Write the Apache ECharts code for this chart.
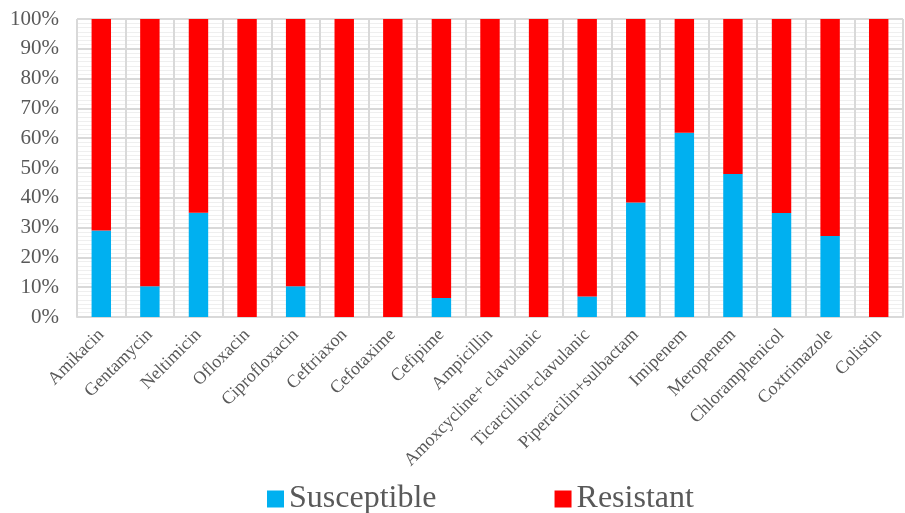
<!DOCTYPE html>
<html>
<head>
<meta charset="utf-8">
<script src="https://cdn.jsdelivr.net/npm/echarts@6/dist/echarts.min.js"></script>
<style>
  html, body { margin: 0; padding: 0; background: #fff; }
  #chart { width: 905px; height: 513px; }
</style>
</head>
<body>
<div id="chart"></div>
<script>
// Antibiotic susceptibility profile (percent of isolates)
const antibiotics = [
  'Amikacin', 'Gentamycin', 'Neltimicin', 'Ofloxacin', 'Ciprofloxacin',
  'Ceftriaxon', 'Cefotaxime', 'Cefipime', 'Ampicillin',
  'Amoxcycline+ clavulanic', 'Ticarcillin+clavulanic', 'Piperacilin+sulbactam',
  'Imipenem', 'Meropenem', 'Chloramphenicol', 'Coxtrimazole', 'Colistin'
];
const susceptible = [29, 10.3, 35, 0, 10.3, 0, 0, 6.4, 0, 0, 6.9, 38.4, 61.8, 48, 34.9, 27.2, 0];
const resistant   = [71, 89.7, 65, 100, 89.7, 100, 100, 93.6, 100, 100, 93.1, 61.6, 38.2, 52, 65.1, 72.8, 100];
const yTicks = [0, 10, 20, 30, 40, 50, 60, 70, 80, 90, 100];

const font = 'Liberation Serif, Times New Roman, serif';
const textColor = '#595959';

const chart = echarts.init(document.getElementById('chart'));
chart.setOption({
  animation: false,
  backgroundColor: '#ffffff',
  grid: { left: 77, right: 2, top: 19, bottom: 196, containLabel: false },
  legend: {
    data: ['Susceptible', 'Resistant'],
    left: 262,
    top: 478,
    itemWidth: 17,
    itemHeight: 17,
    itemGap: 118,
    icon: 'rect',
    textStyle: { fontFamily: font, fontSize: 32, color: textColor, padding: [0, 0, 0, 0] }
  },
  xAxis: {
    type: 'category',
    data: antibiotics,
    axisLine: { show: true, lineStyle: { color: '#d9d9d9', width: 2 } },
    axisTick: { show: false },
    splitLine: { show: true, lineStyle: { color: '#d9d9d9', width: 2 } },
    axisLabel: {
      interval: 0,
      rotate: 45,
      margin: 15,
      fontFamily: font,
      fontSize: 18,
      color: textColor
    }
  },
  yAxis: {
    type: 'value',
    min: yTicks[0],
    max: yTicks[yTicks.length - 1],
    interval: 10,
    axisLine: { show: false },
    axisTick: { show: false },
    axisLabel: {
      margin: 18,
      fontFamily: font,
      fontSize: 21,
      color: textColor,
      formatter: v => v + '%'
    },
    splitLine: { show: true, lineStyle: { color: '#d9d9d9', width: 2 } },
    minorTick: { show: false, splitNumber: 7 },
    minorSplitLine: { show: true, lineStyle: { color: '#efefef', width: 1 } }
  },
  series: [
    {
      name: 'Susceptible',
      type: 'bar',
      stack: 'total',
      barWidth: '40%',
      itemStyle: { color: '#00b0f0' },
      data: susceptible
    },
    {
      name: 'Resistant',
      type: 'bar',
      stack: 'total',
      barWidth: '40%',
      itemStyle: { color: '#ff0000' },
      data: resistant
    }
  ]
});
</script>
</body>
</html>
